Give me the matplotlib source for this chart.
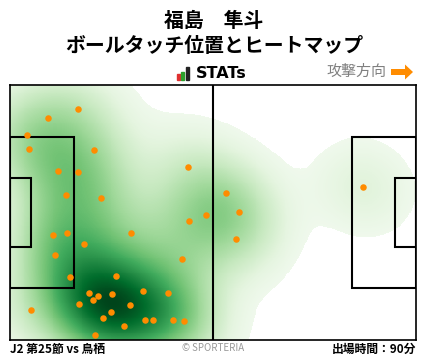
import numpy as np
import matplotlib
matplotlib.use("Agg")
import matplotlib.pyplot as plt
from matplotlib.patches import Rectangle, FancyArrow

plt.rcParams['font.family'] = ['Noto Sans CJK JP', 'DejaVu Sans']

# pitch coordinates (m), 105 x 68, attacking to the right
touch_x = [17.7, 9.9, 4.5, 5.0, 21.8, 46.1, 12.5, 17.7, 14.6, 23.6, 50.8, 46.4,
           11.2, 14.8, 31.4, 19.2, 11.7, 44.6, 27.5, 15.6, 20.5, 22.8, 21.5, 26.5,
           34.3, 40.9, 17.9, 31.1, 5.5, 26.2, 24.1, 35.0, 37.1, 42.2, 45.1, 29.6,
           22.1, 55.9, 59.3, 58.5, 91.4]
touch_y = [61.5, 59.1, 54.6, 50.9, 50.6, 46.1, 45.0, 44.7, 38.6, 37.8, 33.3, 31.7,
           27.9, 28.5, 28.5, 25.5, 22.6, 21.5, 17.0, 16.7, 12.5, 11.7, 10.6, 12.2,
           13.0, 12.5, 9.5, 9.3, 7.9, 7.4, 5.8, 5.3, 5.3, 5.3, 5.0, 3.7,
           1.3, 39.1, 34.1, 26.9, 40.7]

title_name = "福島　隼斗"
title_sub = "ボールタッチ位置とヒートマップ"
match_label = "J2 第25節 vs 鳥栖"
minutes_label = "出場時間：90分"
direction_label = "攻撃方向"

# Gaussian KDE (Scott's rule, full covariance)
pts = np.vstack([touch_x, touch_y])
n = pts.shape[1]
bw_adjust = 0.9
factor = n ** (-1.0 / 6) * bw_adjust
cov = np.cov(pts) * factor ** 2
inv = np.linalg.inv(cov)
gx = np.linspace(0, 105, 420)
gy = np.linspace(0, 68, 272)
GX, GY = np.meshgrid(gx, gy)
grid = np.vstack([GX.ravel(), GY.ravel()])
dens = np.zeros(grid.shape[1])
for i in range(n):
    d = grid - pts[:, i:i + 1]
    dens += np.exp(-0.5 * np.einsum('ij,ik,kj->j', d, inv, d))
dens = dens.reshape(GX.shape)
dens /= dens.max()
thresh = 0.025
val = np.where(dens < thresh, -1.0, dens ** 0.8)

W, H = 428, 359
fig = plt.figure(figsize=(W / 100, H / 100), dpi=100)

deco = fig.add_axes([0, 0, 1, 1])
deco.set_xlim(0, W)
deco.set_ylim(H, 0)
deco.axis('off')

px0, px1, py0, py1 = 10, 416, 85, 340
ax = fig.add_axes([px0 / W, (H - py1) / H, (px1 - px0) / W, (py1 - py0) / H])
cmap = plt.get_cmap('Greens').copy()
cmap.set_under('white')
ax.imshow(val, extent=(0, 105, 0, 68), origin='lower', cmap=cmap,
          vmin=0.0, vmax=1.0, aspect='auto', interpolation='nearest', zorder=1)
ax.scatter(touch_x, touch_y, s=22, color='#ff8c00', zorder=5, linewidths=0)

lw = 1.5
lc = 'black'
ax.plot([52.5, 52.5], [0, 68], color=lc, lw=lw, zorder=4)
for x0, w in [(0, 16.5), (105 - 16.5, 16.5)]:
    ax.add_patch(Rectangle((x0, 34 - 20.16), w, 40.32, fill=False, ec=lc, lw=lw, zorder=4))
for x0, w in [(0, 5.5), (105 - 5.5, 5.5)]:
    ax.add_patch(Rectangle((x0, 34 - 9.16), w, 18.32, fill=False, ec=lc, lw=lw, zorder=4))
ax.set_xlim(0, 105)
ax.set_ylim(0, 68)
ax.set_xticks([])
ax.set_yticks([])
for s in ax.spines.values():
    s.set_linewidth(1.2)
    s.set_color('black')

deco.text(214, 20, title_name, ha='center', va='center', fontsize=14.3, fontweight='bold')
deco.text(214, 45, title_sub, ha='center', va='center', fontsize=14.3, fontweight='bold')

deco.add_patch(Rectangle((177, 74), 3, 6, color='#e03030'))
deco.add_patch(Rectangle((181, 72), 3, 8, color='#2ca02c'))
deco.add_patch(Rectangle((186, 67), 3.5, 13, color='#222222'))
deco.text(196, 74, "STATs", ha='left', va='center', fontsize=11.5, fontweight='bold',
          family=['DejaVu Sans'])

deco.text(386, 72, direction_label, ha='right', va='center', fontsize=10.8, color='#808080')
deco.add_patch(FancyArrow(391, 72, 14, 0, width=6, head_width=15, head_length=8,
                          length_includes_head=False, color='#ff8c00', lw=0))

deco.text(10, 349, match_label, ha='left', va='center', fontsize=8.5, fontweight='bold')
deco.text(213, 348, "© SPORTERIA", ha='center', va='center', fontsize=7, color='#999999')
deco.text(416, 349, minutes_label, ha='right', va='center', fontsize=8.5, fontweight='bold')

fig.savefig('out.png', dpi=100)
